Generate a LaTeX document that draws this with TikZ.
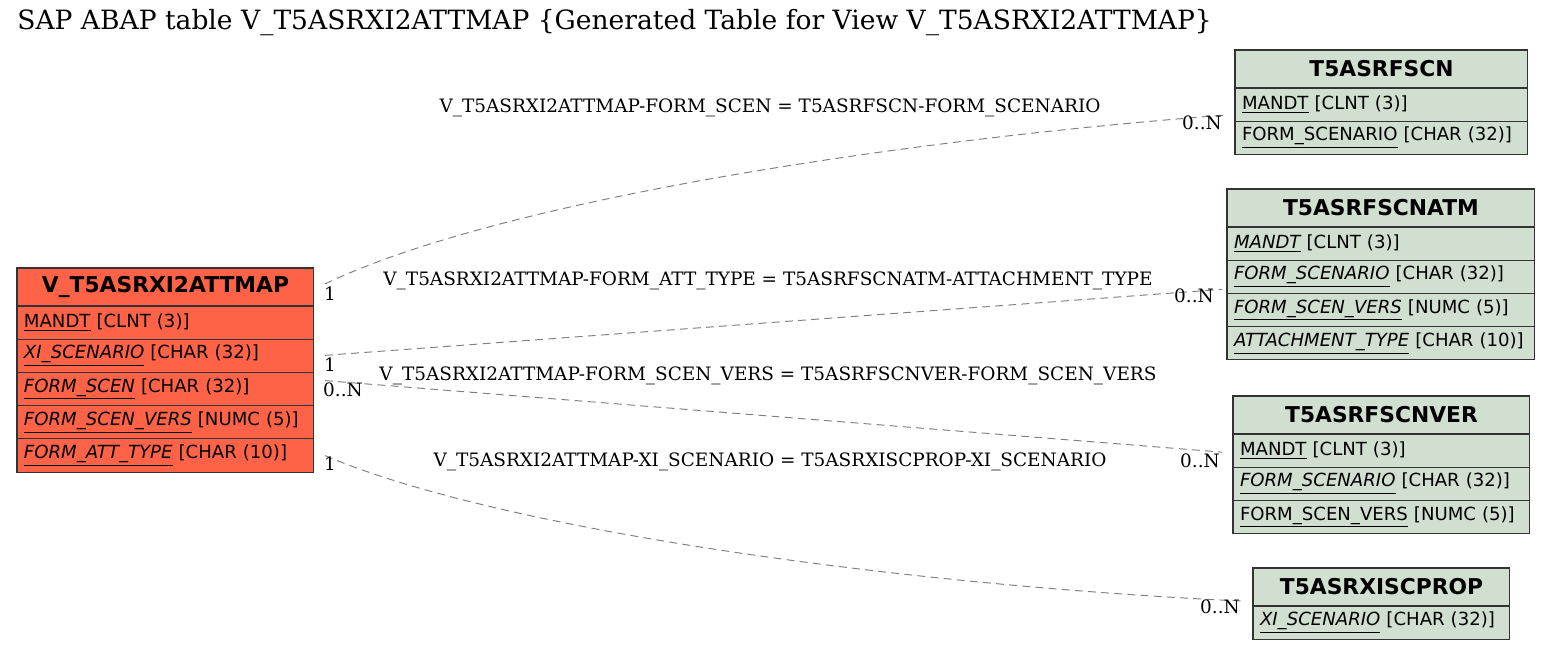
\documentclass[tikz,border=0pt]{standalone}
\usepackage{fontspec}
\usetikzlibrary{positioning}
\newfontfamily\fldfont{DejaVu Sans}
\newfontfamily\lblfont{DejaVu Serif}
\definecolor{vtred}{RGB}{255,99,71}
\definecolor{refgreen}{RGB}{208,223,208}
\tikzset{
  hdr/.style={draw=black!80, line width=0.6pt, anchor=north west, minimum width=#1, outer sep=0pt,
    minimum height=0.76cm, inner sep=0pt, font=\fldfont\fontsize{12.4}{14}\selectfont\bfseries},
  fld/.style={draw=black!80, line width=0.6pt, text width=#1, minimum height=0.665cm, outer sep=0pt,
    inner xsep=0.14cm, inner ysep=0pt, align=left, font=\fldfont\fontsize{10.3}{12}\selectfont},
  rel/.style={draw=gray, dash pattern=on 4.5pt off 3pt, line width=0.55pt},
  lbl/.style={font=\lblfont\fontsize{10.5}{12}\selectfont, inner sep=1pt},
  card/.style={font=\lblfont\fontsize{10.5}{12}\selectfont, inner sep=1pt}
}
\begin{document}
\begin{tikzpicture}[x=0.02cm,y=-0.02cm]
\useasboundingbox (0,0) rectangle (1552,649);
\node[anchor=west, font=\lblfont\fontsize{15.1}{17}\selectfont, inner sep=0pt] (title) at (17,23)
  {SAP ABAP table V\_T5ASRXI2ATTMAP \{Generated Table for View V\_T5ASRXI2ATTMAP\}};
% main table
\node[hdr=5.94cm, fill=vtred] (vt) at (17,268) {V\_T5ASRXI2ATTMAP};
\node[fld=5.66cm, fill=vtred, below=0pt of vt] (vtmandt) {\underline{MANDT} [CLNT (3)]};
\node[fld=5.66cm, fill=vtred, below=0pt of vtmandt] (vtxi) {\textit{\underline{XI\_SCENARIO}} [CHAR (32)]};
\node[fld=5.66cm, fill=vtred, below=0pt of vtxi] (vtscen) {\textit{\underline{FORM\_SCEN}} [CHAR (32)]};
\node[fld=5.66cm, fill=vtred, below=0pt of vtscen] (vtvers) {\textit{\underline{FORM\_SCEN\_VERS}} [NUMC (5)]};
\node[fld=5.66cm, fill=vtred, below=0pt of vtvers] (vtatt) {\textit{\underline{FORM\_ATT\_TYPE}} [CHAR (10)]};
% T5ASRFSCN
\node[hdr=5.86cm, fill=refgreen] (scn) at (1235,50) {T5ASRFSCN};
\node[fld=5.58cm, fill=refgreen, below=0pt of scn] (scnmandt) {\underline{MANDT} [CLNT (3)]};
\node[fld=5.58cm, fill=refgreen, below=0pt of scnmandt] (scnform) {\underline{FORM\_SCENARIO} [CHAR (32)]};
% T5ASRFSCNATM
\node[hdr=6.16cm, fill=refgreen] (atm) at (1227,189) {T5ASRFSCNATM};
\node[fld=5.88cm, fill=refgreen, below=0pt of atm] (atmmandt) {\textit{\underline{MANDT}} [CLNT (3)]};
\node[fld=5.88cm, fill=refgreen, below=0pt of atmmandt] (atmform) {\textit{\underline{FORM\_SCENARIO}} [CHAR (32)]};
\node[fld=5.88cm, fill=refgreen, below=0pt of atmform] (atmvers) {\textit{\underline{FORM\_SCEN\_VERS}} [NUMC (5)]};
\node[fld=5.88cm, fill=refgreen, below=0pt of atmvers] (atmtype) {\mbox{\textit{\underline{ATTACHMENT\_TYPE}} [CHAR (10)]}};
% T5ASRFSCNVER
\node[hdr=5.94cm, fill=refgreen] (ver) at (1233,396) {T5ASRFSCNVER};
\node[fld=5.66cm, fill=refgreen, below=0pt of ver] (vermandt) {\underline{MANDT} [CLNT (3)]};
\node[fld=5.66cm, fill=refgreen, below=0pt of vermandt] (verform) {\textit{\underline{FORM\_SCENARIO}} [CHAR (32)]};
\node[fld=5.66cm, fill=refgreen, below=0pt of verform] (ververs) {\underline{FORM\_SCEN\_VERS} [NUMC (5)]};
% T5ASRXISCPROP
\node[hdr=5.14cm, fill=refgreen] (prop) at (1253,568) {T5ASRXISCPROP};
\node[fld=4.86cm, fill=refgreen, below=0pt of prop] (propxi) {\textit{\underline{XI\_SCENARIO}} [CHAR (32)]};
% relations
\draw[rel] ([xshift=0.22cm,yshift=0.06cm]vt.east) .. controls (500,200) and (900,140) .. ([xshift=-0.2cm,yshift=-0.21cm]scnmandt.west);
\draw[rel] ([xshift=0.22cm,yshift=0.01cm]vtxi.east) -- ([xshift=-0.1cm,yshift=-0.25cm]atmform.west);
\draw[rel] ([xshift=0.22cm,yshift=0.17cm]vtscen.east) -- ([xshift=-0.22cm,yshift=-0.03cm]vermandt.west);
\draw[rel] ([xshift=0.22cm,yshift=0cm]vtatt.east) .. controls (500,530) and (900,585) .. ([xshift=-0.2cm,yshift=0.43cm]propxi.west);
\node[lbl] (l1) at (770,108) {V\_T5ASRXI2ATTMAP-FORM\_SCEN = T5ASRFSCN-FORM\_SCENARIO};
\node[lbl] (l2) at (768,281) {V\_T5ASRXI2ATTMAP-FORM\_ATT\_TYPE = T5ASRFSCNATM-ATTACHMENT\_TYPE};
\node[lbl] (l3) at (768,376) {V\_T5ASRXI2ATTMAP-FORM\_SCEN\_VERS = T5ASRFSCNVER-FORM\_SCEN\_VERS};
\node[lbl] (l4) at (770,462) {V\_T5ASRXI2ATTMAP-XI\_SCENARIO = T5ASRXISCPROP-XI\_SCENARIO};
\node[card] (c1a) at (330,294) {1};
\node[card] (c1b) at (1202,123) {0..N};
\node[card] (c2a) at (330,365) {1};
\node[card] (c2b) at (1194,296) {0..N};
\node[card] (c3a) at (343,390) {0..N};
\node[card] (c3b) at (1200,461) {0..N};
\node[card] (c4a) at (330,464) {1};
\node[card] (c4b) at (1220,607) {0..N};
\end{tikzpicture}
\end{document}
